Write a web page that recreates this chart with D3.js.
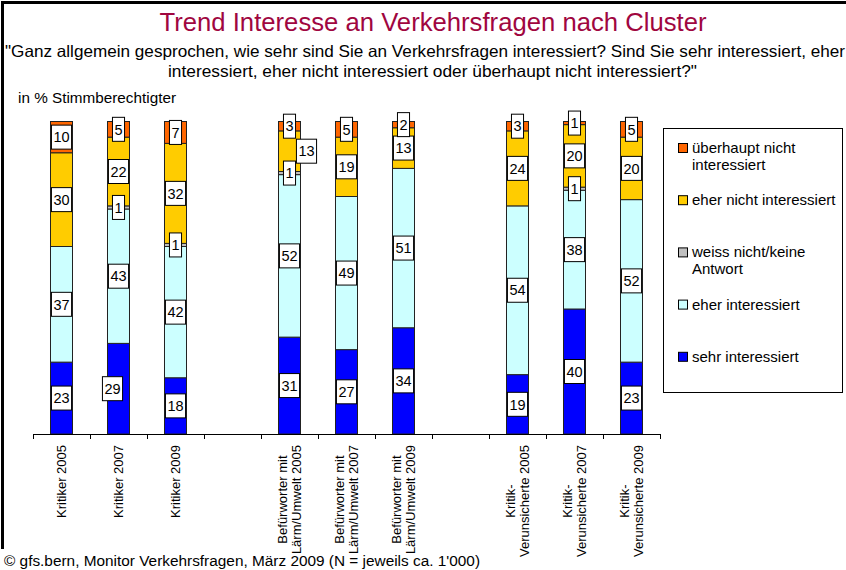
<!DOCTYPE html>
<html>
<head>
<meta charset="utf-8">
<script src="https://cdn.jsdelivr.net/npm/d3@7"></script>
<style>
  body { margin: 0; background: #fff; }
  svg { display: block; font-family: "Liberation Sans", Arial, sans-serif; }
</style>
</head>
<body>
<svg id="chart" width="846" height="570"></svg>
<script>
"use strict";

// data (bottom segment first)
const groups = ["Kritiker", "Befürworter mit\nLärm/Umwelt", "Kritik-\nVerunsicherte"];
const years = ["2005", "2007", "2009"];

const sehrInteressiert = [23, 29, 18, 31, 27, 34, 19, 40, 23];
const eherInteressiert = [37, 43, 42, 52, 49, 51, 54, 38, 52];
const weissNicht = [0, 1, 1, 1, 0, 0, 0, 1, 0];
const eherNichtInteressiert = [30, 22, 32, 13, 19, 13, 24, 20, 20];
const ueberhauptNicht = [10, 5, 7, 3, 5, 2, 3, 1, 5];

const seriesNames = [
  "sehr interessiert",
  "eher interessiert",
  "weiss nicht/keine\nAntwort",
  "eher nicht interessiert",
  "überhaupt nicht\ninteressiert",
];
const seriesColors = ["#0000ff", "#ccffff", "#c0c0c0", "#ffcc00", "#ff6600"];

const title = "Trend Interesse an Verkehrsfragen nach Cluster";
const question = [
  "\"Ganz allgemein gesprochen, wie sehr sind Sie an Verkehrsfragen interessiert? Sind Sie sehr interessiert, eher",
  "interessiert, eher nicht interessiert oder überhaupt nicht interessiert?\"",
];
const unitLabel = "in % Stimmberechtigter";
const sourceNote = "© gfs.bern, Monitor Verkehrsfragen, März 2009 (N = jeweils ca. 1'000)";

// a few value labels sit beside their bar in the original
const labelShift = [
  { cat: 1, series: 0, dx: -6 },
  { cat: 3, series: 3, dx: 17 },
];

const svg = d3.select("#chart");

// categories with an empty slot between the groups
const categories = [];
const slots = [];
groups.forEach((g, gi) => {
  years.forEach((y) => {
    categories.push(g + " " + y);
    slots.push(g + " " + y);
  });
  if (gi < groups.length - 1) slots.push("gap" + gi);
});

const seriesValues = [sehrInteressiert, eherInteressiert, weissNicht, eherNichtInteressiert, ueberhauptNicht];
const rows = categories.map((c, i) => {
  let row = { category: c };
  seriesValues.forEach((vals, s) => { row["s" + s] = vals[i]; });
  return row;
});
const keys = seriesValues.map((v, s) => "s" + s);
const stacked = d3.stack().keys(keys)(rows);

const plotLeft = 33, plotRight = 660, plotTop = 121.5, plotBottom = 434;

const x = d3.scaleBand()
  .domain(slots)
  .range([plotLeft, plotRight])
  .paddingInner(0.614)
  .paddingOuter(0.307);

const y = d3.scaleLinear().domain([0, 100]).range([plotBottom, plotTop]);

// frame lines (top and left)
svg.append("rect").attr("x", 1).attr("y", 1).attr("width", 845).attr("height", 3).attr("fill", "#000");
svg.append("rect").attr("x", 1).attr("y", 1).attr("width", 3).attr("height", 548).attr("fill", "#000");

// headings
svg.append("text")
  .attr("x", 433).attr("y", 31)
  .attr("text-anchor", "middle")
  .attr("font-size", 25)
  .attr("fill", "#a0063f")
  .attr("textLength", 547)
  .attr("lengthAdjust", "spacingAndGlyphs")
  .text(title);

svg.append("text")
  .attr("x", 5).attr("y", 57)
  .attr("font-size", 16.5)
  .attr("textLength", 840)
  .attr("lengthAdjust", "spacingAndGlyphs")
  .text(question[0]);

svg.append("text")
  .attr("x", 432.5).attr("y", 77)
  .attr("text-anchor", "middle")
  .attr("font-size", 16.5)
  .attr("textLength", 529)
  .attr("lengthAdjust", "spacingAndGlyphs")
  .text(question[1]);

svg.append("text")
  .attr("x", 18).attr("y", 103)
  .attr("font-size", 14.5)
  .attr("textLength", 158)
  .attr("lengthAdjust", "spacingAndGlyphs")
  .text(unitLabel);

// stacked bars
const barsG = svg.append("g");
stacked.forEach((layer, s) => {
  barsG.append("g")
    .selectAll("rect")
    .data(layer.filter((d) => d[1] - d[0] > 0))
    .join("rect")
    .attr("x", (d) => x(d.data.category))
    .attr("y", (d) => y(d[1]))
    .attr("width", x.bandwidth())
    .attr("height", (d) => y(d[0]) - y(d[1]))
    .attr("fill", seriesColors[s])
    .attr("stroke", "#222")
    .attr("stroke-width", 1);
});

// value labels in white boxes
const labelsG = svg.append("g").attr("font-size", 14.5);
stacked.forEach((layer, s) => {
  layer.forEach((d, ci) => {
    let v = d[1] - d[0];
    if (v <= 0) return;
    let shift = labelShift.find((l) => l.cat === ci && l.series === s);
    let cx = x(d.data.category) + x.bandwidth() / 2 + (shift ? shift.dx : 0);
    let cy = y((d[0] + d[1]) / 2);
    let g = labelsG.append("g").attr("transform", `translate(${cx},${cy})`);
    let box = g.append("rect");
    let t = g.append("text")
      .attr("text-anchor", "middle")
      .attr("dy", "0.36em")
      .attr("fill", "#000")
      .text(v);
    let w = t.node().getComputedTextLength() + 4;
    box.attr("x", -w / 2).attr("y", -12)
      .attr("width", w).attr("height", 24)
      .attr("fill", "#fff")
      .attr("stroke", "#000")
      .attr("stroke-width", 1);
  });
});

// category axis with ticks between the slots
const slotScale = d3.scaleLinear().domain([0, slots.length]).range([plotLeft, plotRight]);
svg.append("g")
  .attr("transform", `translate(0,${plotBottom})`)
  .call(d3.axisBottom(slotScale).tickValues(d3.range(slots.length + 1)).tickSize(5).tickSizeOuter(0).tickFormat(""))
  .call((g) => g.selectAll("path, line").attr("stroke", "#000"));

// rotated category labels, block ends just under the axis
const tickG = svg.append("g").attr("font-size", 13);
categories.forEach((c) => {
  let lines = c.split("\n");
  let g = tickG.append("g")
    .attr("transform", `translate(${x(c) + x.bandwidth() / 2},445) rotate(-90)`);
  let texts = lines.map((line, i) => g.append("text")
    .attr("text-anchor", "middle")
    .attr("y", (i - (lines.length - 1) / 2) * 13.5)
    .attr("dy", "0.36em")
    .text(line));
  let maxW = d3.max(texts, (t) => t.node().getComputedTextLength());
  texts.forEach((t) => t.attr("x", -maxW / 2));
});

// legend
const legend = svg.append("g").attr("font-size", 15);
legend.append("rect")
  .attr("x", 663.5).attr("y", 128.5)
  .attr("width", 179).attr("height", 264)
  .attr("fill", "#fff")
  .attr("stroke", "#000")
  .attr("stroke-width", 1);

const legendOrder = [4, 3, 2, 1, 0];
legendOrder.forEach((s, i) => {
  let baseY = 153 + i * 52.2;
  legend.append("rect")
    .attr("x", 678.5).attr("y", baseY - 9.5)
    .attr("width", 9).attr("height", 9)
    .attr("fill", seriesColors[s])
    .attr("stroke", "#000")
    .attr("stroke-width", 1);
  seriesNames[s].split("\n").forEach((line, li) => {
    legend.append("text")
      .attr("x", 692).attr("y", baseY + li * 17)
      .text(line);
  });
});

// source note
svg.append("text")
  .attr("x", 4).attr("y", 566)
  .attr("font-size", 14)
  .attr("textLength", 476)
  .attr("lengthAdjust", "spacingAndGlyphs")
  .text(sourceNote);
</script>
</body>
</html>
